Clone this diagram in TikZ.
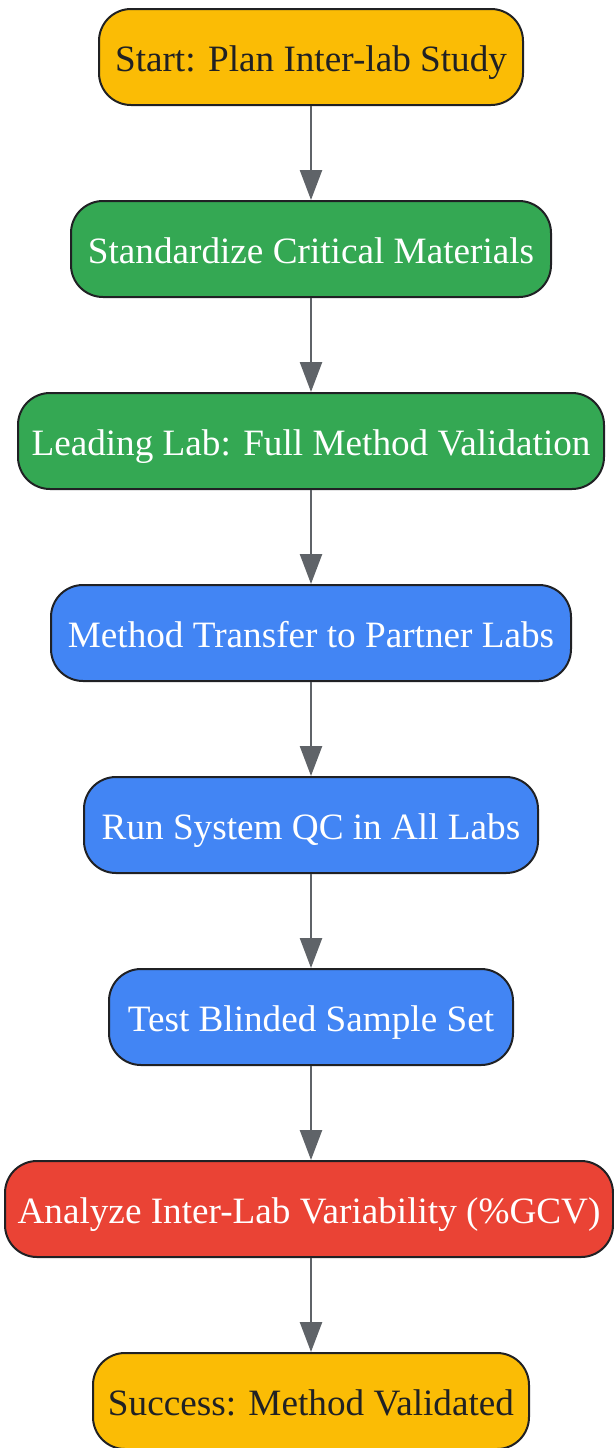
\documentclass[tikz,border=0pt]{standalone}
\usepackage{fontspec}
\setmainfont{Liberation Serif}
\usetikzlibrary{arrows.meta}
\definecolor{gyellow}{HTML}{FBBC05}
\definecolor{ggreen}{HTML}{34A853}
\definecolor{gblue}{HTML}{4285F4}
\definecolor{gred}{HTML}{EA4335}
\definecolor{gborder}{HTML}{202124}
\definecolor{garrow}{HTML}{5F6368}
\tikzset{
  box/.style={draw=gborder, line width=2pt, rounded corners=32pt, minimum height=96pt,
    inner sep=0pt, text height=28pt, text depth=0pt, font=\fontsize{37.2}{40}\selectfont},
  dark/.style={box, text=gborder},
  light/.style={box, text=white},
  conn/.style={draw=garrow, line width=2.5pt, -{Triangle[width=22pt,length=30pt]}}
}
\begin{document}
\begin{tikzpicture}[x=1pt,y=-1pt]
\useasboundingbox (0,0) rectangle (613,1448);
\node[dark, fill=gyellow, minimum width=424pt] (n1) at (311,57) {Start: Plan Inter-lab Study};
\node[light, fill=ggreen, minimum width=480pt] (n2) at (311,249) {Standardize Critical Materials};
\node[light, fill=ggreen, minimum width=586pt] (n3) at (311,441) {Leading Lab: Full Method Validation};
\node[light, fill=gblue, minimum width=520pt] (n4) at (311,633) {Method Transfer to Partner Labs};
\node[light, fill=gblue, minimum width=454pt] (n5) at (311,825) {Run System QC in All Labs};
\node[light, fill=gblue, minimum width=404pt] (n6) at (311,1017) {Test Blinded Sample Set};
\node[light, fill=gred, minimum width=608pt] (n7) at (309,1209) {Analyze Inter-Lab Variability (\%GCV)};
\node[dark, fill=gyellow, minimum width=436pt] (n8) at (311,1401) {Success: Method Validated};
\foreach \a/\b in {n1/n2,n2/n3,n3/n4,n4/n5,n5/n6,n6/n7,n7/n8}
  \draw[conn] (\a.south -| n1.south) -- (\b.north -| n1.south);
\end{tikzpicture}
\end{document}
